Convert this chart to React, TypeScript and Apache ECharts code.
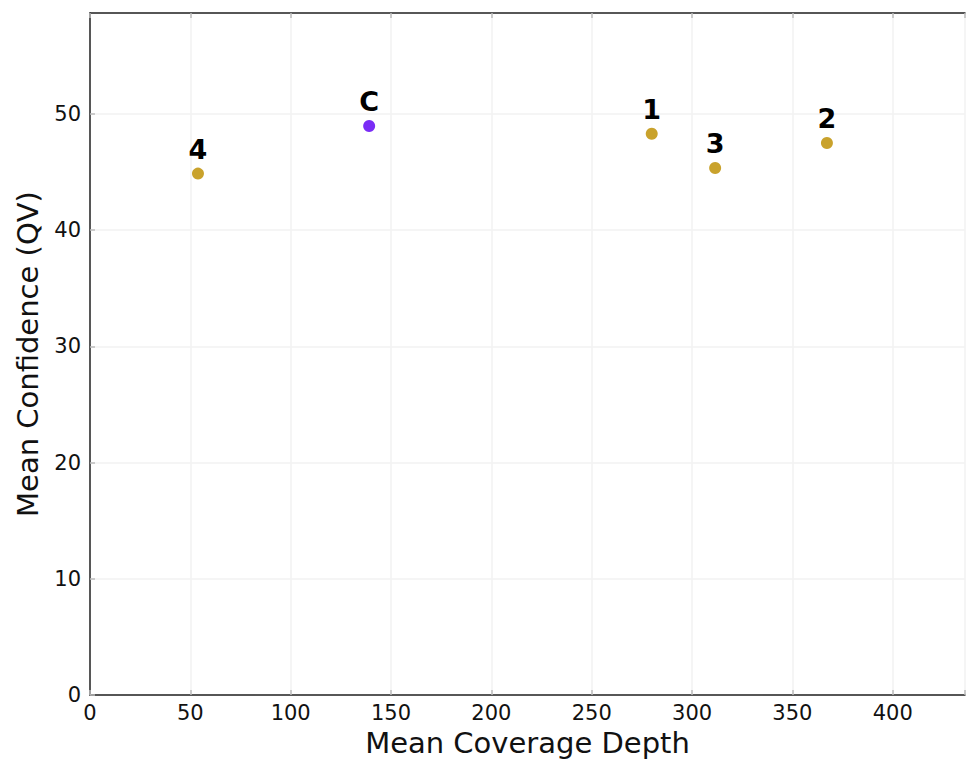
import React, { useEffect, useRef } from "react";
import * as echarts from "echarts";

const pointLabels = ["4", "C", "1", "3", "2"];
const coverageDepth = [53.8, 139.1, 279.9, 311.5, 367.2];
const meanConfidence = [44.85, 48.94, 48.28, 45.33, 47.48];
const xTicks = [0, 50, 100, 150, 200, 250, 300, 350, 400];
const yTicks = [0, 10, 20, 30, 40, 50];

const GOLD = "#c9a22c";
const PURPLE = "#7a2cf6";

export default function App() {
  const ref = useRef<HTMLDivElement>(null);
  useEffect(() => {
    if (!ref.current) return;
    const chart = echarts.init(ref.current, undefined, { renderer: "svg" });
    const data = pointLabels.map((l, i) => ({
      value: [coverageDepth[i], meanConfidence[i]],
      name: l,
      itemStyle: { color: l === "C" ? PURPLE : GOLD, opacity: 1 },
    }));
    const font = "DejaVu Sans";
    chart.setOption({
      animation: false,
      backgroundColor: "#ffffff",
      grid: { left: 90, top: 13, right: 0, bottom: 61 },
      xAxis: [
        {
          type: "value",
          min: 0,
          max: 436,
          interval: 50,
          name: "Mean Coverage Depth",
          nameLocation: "middle",
          nameGap: 31,
          nameTextStyle: { fontFamily: font, fontSize: 29, color: "#111" },
          axisLine: { show: true, onZero: false, lineStyle: { color: "#222", width: 1.5 } },
          axisTick: { show: true, inside: true, length: 5, lineStyle: { color: "#bbb", width: 1.5 } },
          axisLabel: {
            fontFamily: font,
            fontSize: 21,
            color: "#111",
            margin: 7,
            formatter: (v: number) => (xTicks.includes(v) ? String(v) : ""),
          },
          splitLine: { show: true, lineStyle: { color: "#f2f2f2", width: 1.5 } },
        },
        {
          type: "value",
          position: "top",
          min: 0,
          max: 436,
          interval: 50,
          axisLine: { show: true, onZero: false, lineStyle: { color: "#222", width: 1.5 } },
          axisTick: { show: true, inside: true, length: 5, lineStyle: { color: "#bbb", width: 1.5 } },
          axisLabel: { show: false },
          splitLine: { show: false },
        },
      ],
      yAxis: {
        type: "value",
        min: 0,
        max: 58.66,
        interval: 10,
        name: "Mean Confidence (QV)",
        nameLocation: "middle",
        nameGap: 48,
        nameTextStyle: { fontFamily: font, fontSize: 29, color: "#111" },
        axisLine: { show: true, onZero: false, lineStyle: { color: "#222", width: 1.5 } },
        axisTick: { show: true, inside: true, length: 5, lineStyle: { color: "#bbb", width: 1.5 } },
        axisLabel: {
          fontFamily: font,
          fontSize: 21,
          color: "#111",
          margin: 9,
          showMaxLabel: false,
          formatter: (v: number) => (yTicks.includes(v) ? String(v) : ""),
        },
        splitLine: { show: true, lineStyle: { color: "#f2f2f2", width: 1.5 } },
      },
      series: [
        {
          type: "scatter",
          xAxisIndex: 0,
          symbolSize: 12,
          data,
          label: {
            show: true,
            position: "top",
            distance: 5,
            formatter: (p: any) => p.name,
            fontFamily: font,
            fontWeight: "bold",
            fontSize: 27,
            color: "#000",
          },
        },
      ],
    });
    return () => chart.dispose();
  }, []);
  return (
    <div
      ref={ref}
      style={{ position: "fixed", left: 0, top: 0, width: 968, height: 762, background: "#fff" }}
    />
  );
}
